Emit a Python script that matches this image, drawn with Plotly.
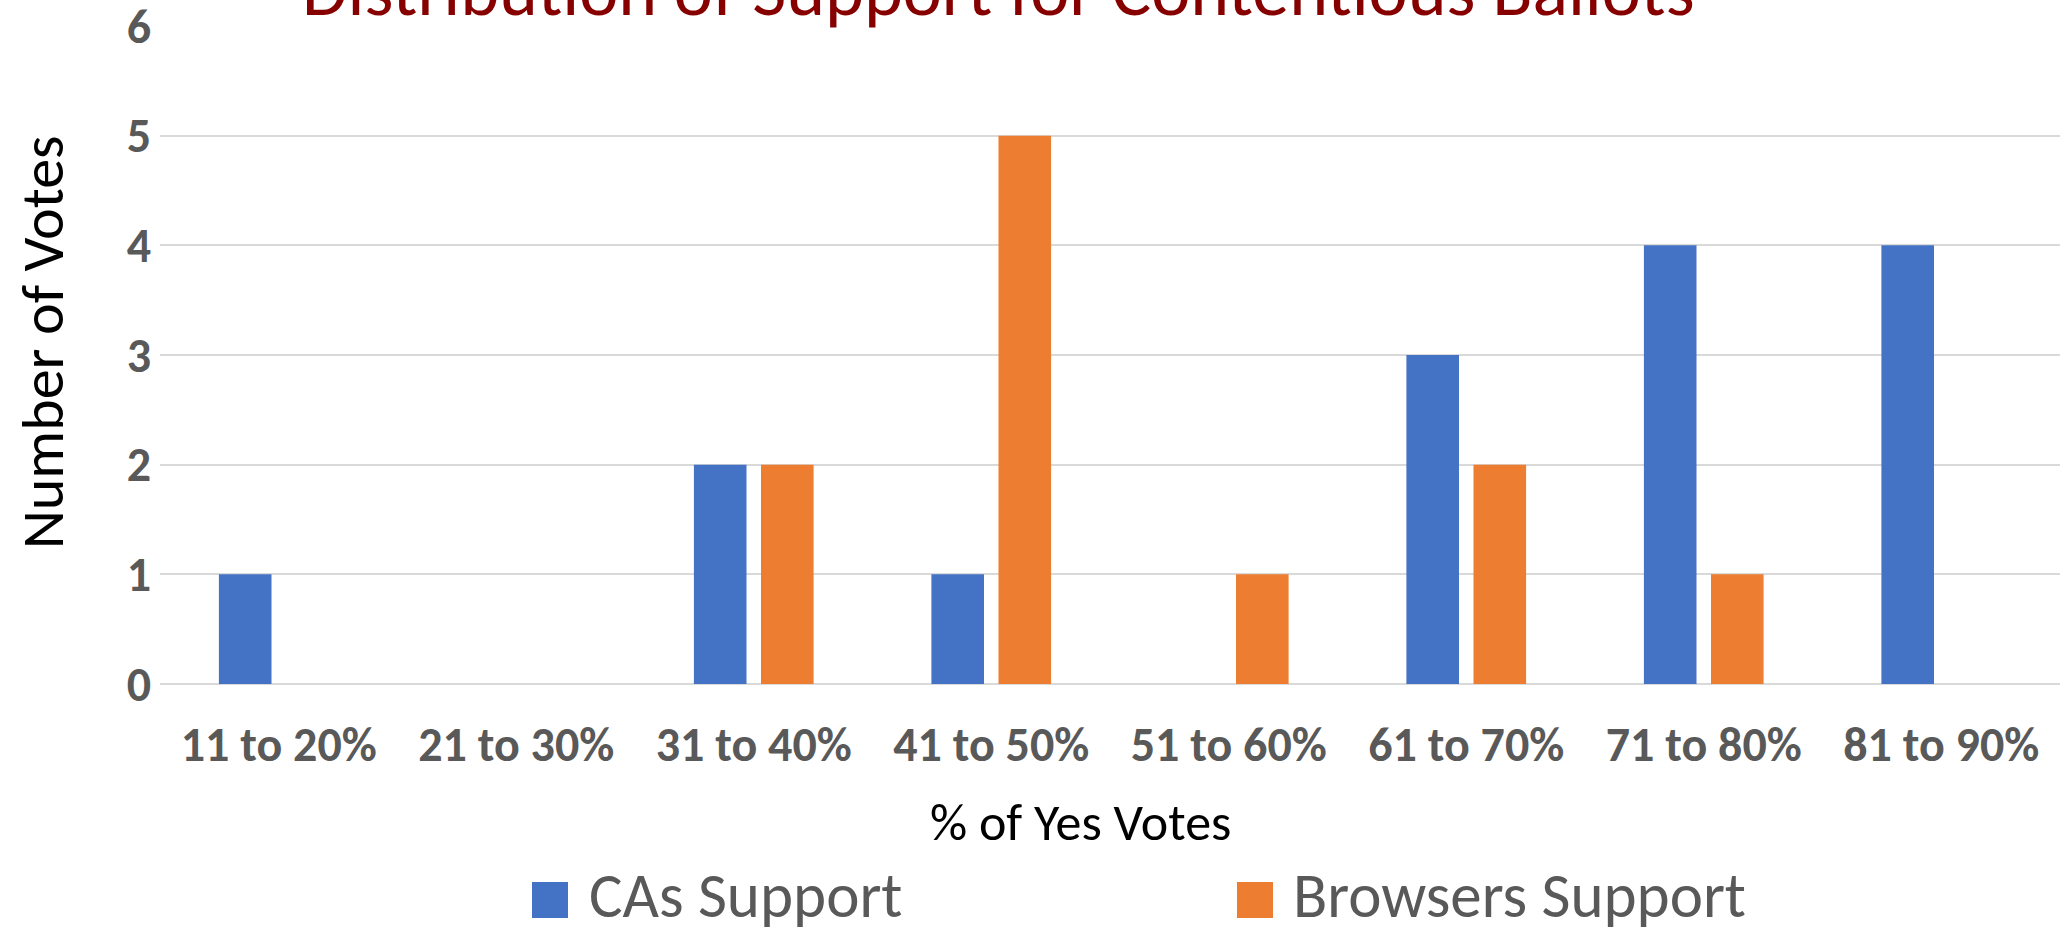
import plotly.graph_objects as go

categories = ["11 to 20%", "21 to 30%", "31 to 40%", "41 to 50%",
              "51 to 60%", "61 to 70%", "71 to 80%", "81 to 90%"]
cas_support = [1, 0, 2, 1, 0, 3, 4, 4]
browsers_support = [0, 0, 2, 5, 1, 2, 1, 0]
series_names = ["CAs Support", "Browsers Support"]
y_ticks = [0, 1, 2, 3, 4, 5, 6]

W, H = 2064, 927
ML, MR, MT, MB = 160, 4, 26, 243
PW, PH = W - ML - MR, H - MT - MB

def px(xp):
    return (xp - ML) / PW

def py(yp):
    return (H - MB - yp) / PH

FONT = "Carlito, 'Liberation Sans Narrow', 'DejaVu Sans Condensed', 'Open Sans', sans-serif"
BLUE, ORANGE = "#4472C4", "#ED7D31"
GREY = "#595959"

fig = go.Figure()
fig.add_trace(go.Bar(x=categories, y=cas_support, name=series_names[0],
                     marker=dict(color=BLUE, line=dict(width=0)), showlegend=False))
fig.add_trace(go.Bar(x=categories, y=browsers_support, name=series_names[1],
                     marker=dict(color=ORANGE, line=dict(width=0)), showlegend=False))

fig.update_layout(
    template="none",
    width=W, height=H,
    margin=dict(l=ML, r=MR, t=MT, b=MB, pad=0),
    paper_bgcolor="white", plot_bgcolor="white",
    barmode="group", bargap=0.435, bargroupgap=0.216,
    font=dict(family=FONT, color=GREY),
    showlegend=False,
    xaxis=dict(
        automargin=False, showgrid=False, showline=False, zeroline=False,
        tickfont=dict(size=48, color=GREY, family=FONT, weight="bold"),
        ticks="", ticklabelstandoff=28, ticklabeloverflow="allow",
    ),
    yaxis=dict(
        automargin=False, range=[0, 6], tickvals=y_ticks,
        showgrid=True, gridcolor="#d9d9d9", gridwidth=2,
        zeroline=True, zerolinecolor="#d9d9d9", zerolinewidth=2, showline=False,
        tickfont=dict(size=48, color=GREY, family=FONT, weight="bold"),
        ticks="", ticklabelstandoff=8, ticklabeloverflow="allow",
    ),
)

# Chart title (partially clipped at the top, as in the reference)
fig.add_annotation(text="Distribution of Support for Contentious Ballots",
                   xref="paper", yref="paper", x=px(998), y=1, xanchor="center", yanchor="bottom",
                   yshift=-11, showarrow=False,
                   font=dict(size=74, color="#860000", family=FONT))

# Axis titles
fig.add_annotation(text="% of Yes Votes", xref="paper", yref="paper",
                   x=px(1080), y=py(822), xanchor="center", yanchor="middle",
                   showarrow=False, font=dict(size=52, color="black", family=FONT))
fig.add_annotation(text="Number of Votes", xref="paper", yref="paper",
                   x=px(42), y=py(342), xanchor="center", yanchor="middle", textangle=-90,
                   showarrow=False, font=dict(size=60, color="black", family=FONT))

# Legend drawn manually
legend_items = [(series_names[0], BLUE, 532, 587), (series_names[1], ORANGE, 1237, 1291)]
for name, color, sx, tx in legend_items:
    fig.add_shape(type="rect", xref="paper", yref="paper",
                  x0=px(sx), x1=px(sx + 36), y0=py(918), y1=py(882),
                  fillcolor=color, line=dict(width=0))
    fig.add_annotation(text=name, xref="paper", yref="paper",
                       x=px(tx), y=py(895), xanchor="left", yanchor="middle",
                       showarrow=False, font=dict(size=63, color=GREY, family=FONT))

fig.write_html("out.html", config={"displayModeBar": False},
               post_script="document.body.style.margin='0px';document.body.style.overflow='hidden';")
